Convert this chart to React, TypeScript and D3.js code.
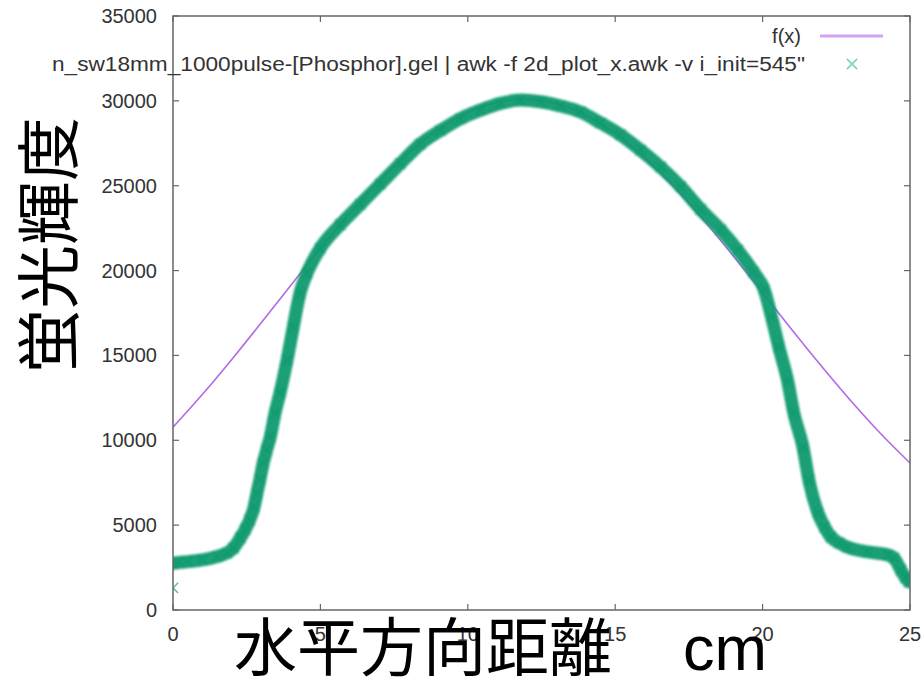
import React from 'react';
import * as d3 from 'd3';

// measured profile (cm, brightness)
const posCm = [
  0.0, 0.2, 0.5, 1.0, 1.5, 1.83, 2.05, 2.28, 2.45, 2.6, 2.75, 2.85, 2.95, 3.06, 3.18, 3.3, 3.46,
  3.63, 3.87, 4.08, 4.31, 4.55, 4.99, 5.67, 6.35, 7.03, 7.71, 8.39, 9.07, 9.75, 10.43, 11.11,
  11.79, 12.47, 13.15, 13.82, 14.5, 15.18, 15.86, 16.54, 17.22, 17.9, 18.58, 19.16, 19.7,
  20.05, 20.3, 20.55, 20.85, 21.06, 21.37, 21.57, 21.88, 22.1, 22.32, 22.6, 22.89, 23.57,
  24.25, 24.46, 24.69, 24.85, 24.97,
];
const brightness = [
  2750, 2800, 2850, 2950, 3150, 3360, 3650, 4240, 4750, 5300, 6050, 6900, 7700, 8660, 9450, 10200, 11600,
  12790, 14730, 16680, 18680, 19860, 21300, 22700, 23900, 25100, 26300, 27450, 28250, 28950, 29450, 29850,
  30050, 29950, 29700, 29350, 28700, 28000, 27100, 26100, 24950, 23600, 22400, 21200, 19900,
  18900, 17300, 15500, 13500, 11600, 9600, 7660, 5720, 4900, 4300, 3950, 3700, 3420,
  3240, 3060, 2360, 1900, 1650,
];
const strayCm = [0];
const strayVal = [1300];

// fitted curve f(x)
const fitCm = [0, 1, 2, 3, 4, 5, 6, 7, 8, 9, 10, 11, 12, 13, 14, 15, 16, 17, 18, 19, 20, 21, 22, 23, 24, 25];
const fitVal = [
  10770, 12710, 14780, 16940, 19140, 21310, 23380, 25290, 26950, 28320, 29320, 29920, 30100,
  29840, 29150, 28070, 26640, 24920, 22980, 20880, 18700, 16500, 14360, 12310, 10400, 8660,
];

const xTicks = [0, 5, 10, 15, 20, 25];
const yTicks = [0, 5000, 10000, 15000, 20000, 25000, 30000, 35000];

const fitLabel = 'f(x)';
const dataLabel = 'n_sw18mm_1000pulse-[Phosphor].gel | awk -f 2d_plot_x.awk -v i_init=545"';
const xTitle = '水平方向距離';
const xUnit = 'cm';
const yTitle = '蛍光輝度';

const W = 922, H = 677;
const L = 173, R = 910, T = 16, B = 610;
const GREEN = '#0c9a6f';
const PURPLE = '#b36ae6';
const FONT = "'Liberation Sans', Arial, 'Noto Sans CJK JP', sans-serif";

export default function App() {
  const x = d3.scaleLinear().domain([0, 25]).range([L, R]);
  const y = d3.scaleLinear().domain([0, 35000]).range([B, T]);

  const pts = posCm.map((c, i) => [c, brightness[i]] as [number, number]);
  const fitPts = fitCm.map((c, i) => [c, fitVal[i]] as [number, number]);

  const line = d3.line<[number, number]>()
    .x(d => x(d[0]))
    .y(d => y(d[1]))
    .curve(d3.curveMonotoneX);
  const fitLine = d3.line<[number, number]>()
    .x(d => x(d[0]))
    .y(d => y(d[1]))
    .curve(d3.curveNatural);

  const cross = d3.symbol(d3.symbolTimes, 70)()!;
  const tick = 6;

  return (
    <svg width={W} height={H} style={{ position: 'absolute', left: 0, top: 0, background: '#fff' }}
      fontFamily={FONT}>
      <defs>
        <clipPath id="plot">
          <rect x={L} y={T} width={R - L} height={B - T} />
        </clipPath>
        <filter id="soft" x="-5%" y="-5%" width="110%" height="110%">
          <feGaussianBlur stdDeviation={0.8} />
        </filter>
      </defs>

      {/* ticks, mirrored on all sides */}
      <g stroke="#666" strokeWidth={1.2}>
        {xTicks.map(t => (
          <g key={'xt' + t}>
            <line x1={x(t)} x2={x(t)} y1={B} y2={B - tick} />
            <line x1={x(t)} x2={x(t)} y1={T} y2={T + tick} />
          </g>
        ))}
        {yTicks.map(t => (
          <g key={'yt' + t}>
            <line x1={L} x2={L + tick} y1={y(t)} y2={y(t)} />
            <line x1={R} x2={R - tick} y1={y(t)} y2={y(t)} />
          </g>
        ))}
      </g>

      <g fill="#333" fontSize={20}>
        {yTicks.map(t => (
          <text key={'yl' + t} x={157} y={y(t)} dy="0.35em" textAnchor="end">{t}</text>
        ))}
        {xTicks.map(t => (
          <text key={'xl' + t} x={x(t)} y={641} textAnchor="middle">{t}</text>
        ))}
      </g>

      <g clipPath="url(#plot)">
        <path d={fitLine(fitPts)!} fill="none" stroke={PURPLE} strokeWidth={1.6} />
        <g filter="url(#soft)">
          <path d={line(pts)!} fill="none" stroke={GREEN} strokeWidth={13} strokeLinecap="round"
            strokeLinejoin="round" opacity={0.95} />
          {pts.map((d, i) => (
            <path key={'m' + i} d={cross} transform={`translate(${x(d[0])},${y(d[1])})`}
              fill="none" stroke={GREEN} strokeWidth={1.6} />
          ))}
        </g>
        {strayCm.map((c, i) => (
          <path key={'s' + i} d={cross} transform={`translate(${x(c)},${y(strayVal[i])})`}
            fill="none" stroke="#4fbf98" strokeWidth={1.4} />
        ))}
      </g>

      <rect x={L} y={T} width={R - L} height={B - T} fill="none" stroke="#666" strokeWidth={1.5} />

      {/* legend */}
      <g fontSize={20} fill="#333">
        <text x={801} y={43} textAnchor="end">{fitLabel}</text>
        <line x1={820} x2={883} y1={36} y2={36} stroke="#d3a2f3" strokeWidth={3} />
        <text x={805} y={71} textAnchor="end" textLength={753} lengthAdjust="spacingAndGlyphs">{dataLabel}</text>
        <path d={cross} transform="translate(852,64)" fill="none" stroke="#7fd3b5" strokeWidth={1.6} />
      </g>

      {/* axis titles */}
      <text x={234} y={670} fontSize={63} fill="#000">
        {xTitle}
        <tspan x={683}>{xUnit}</tspan>
      </text>
      <text transform="translate(72,245) rotate(-90)" textAnchor="middle" fontSize={64} fill="#000">{yTitle}</text>
    </svg>
  );
}
